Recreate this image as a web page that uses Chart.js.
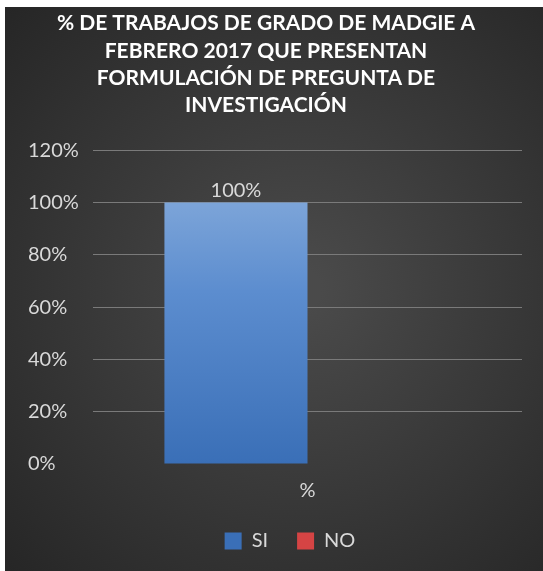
<!DOCTYPE html>
<html>
<head>
<meta charset="utf-8">
<script src="https://cdn.jsdelivr.net/npm/chart.js@4.4.0/dist/chart.umd.min.js"></script>
<style>
  html, body { margin: 0; padding: 0; background: #ffffff; width: 543px; height: 571px; overflow: hidden; }
  #wrap { position: absolute; left: 5px; top: 7px; width: 538px; height: 564px; }
</style>
</head>
<body>
<div id="wrap"><canvas id="c" width="538" height="564"></canvas></div>
<script>
const titleLines = [
  '% DE TRABAJOS DE GRADO DE MADGIE A',
  'FEBRERO 2017 QUE PRESENTAN',
  'FORMULACIÓN DE PREGUNTA DE',
  'INVESTIGACIÓN'
];
const categories = ['%'];
const seriesNames = ['SI', 'NO'];
const siValues = [100];
const noValues = [0];
const yTicks = [0, 20, 40, 60, 80, 100, 120];

const FONT = 'Lato, "Open Sans", sans-serif';

const bgPlugin = {
  id: 'bg',
  beforeDraw(chart) {
    const { ctx, width, height } = chart;
    const g = ctx.createRadialGradient(width * 0.55, height * 0.5, 20, width * 0.55, height * 0.5, Math.max(width, height) * 0.72);
    g.addColorStop(0, '#4a4a4a');
    g.addColorStop(1, '#262626');
    ctx.save();
    ctx.fillStyle = g;
    ctx.fillRect(0, 0, width, height);
    ctx.restore();
  }
};

const shiftPlugin = {
  id: 'shift',
  afterLayout(chart) {
    const t = chart.titleBlock;
    if (t) { t.left -= 9; t.right -= 9; }
    const l = chart.legend;
    if (l) { l.left += 15; l.right += 15; }
  }
};

const labelPlugin = {
  id: 'barLabels',
  afterDatasetsDraw(chart) {
    const { ctx } = chart;
    const meta = chart.getDatasetMeta(0);
    ctx.save();
    ctx.font = '20px ' + FONT;
    ctx.fillStyle = '#d9d9d9';
    ctx.textAlign = 'center';
    ctx.textBaseline = 'middle';
    meta.data.forEach((bar, i) => {
      const v = chart.data.datasets[0].data[i];
      ctx.fillText(v + '%', bar.x, bar.y - 12);
    });
    ctx.restore();
  }
};

function blueGradient(context) {
  const chart = context.chart;
  const area = chart.chartArea;
  if (!area) return '#4a7fc5';
  const g = chart.ctx.createLinearGradient(0, area.top, 0, area.bottom);
  g.addColorStop(0, '#8fb2de');
  g.addColorStop(0.45, '#5c8dcf');
  g.addColorStop(1, '#3a6fb7');
  return g;
}

new Chart(document.getElementById('c'), {
  type: 'bar',
  data: {
    labels: categories,
    datasets: [
      { label: seriesNames[0], data: siValues, backgroundColor: blueGradient, borderWidth: 0 },
      { label: seriesNames[1], data: noValues, backgroundColor: '#d54444', borderWidth: 0 }
    ]
  },
  options: {
    responsive: false,
    animation: false,
    devicePixelRatio: 1,
    layout: { padding: { left: 23, right: 21, top: 0, bottom: 10 } },
    datasets: { bar: { categoryPercentage: 0.667, barPercentage: 1.0 } },
    plugins: {
      title: {
        display: true,
        text: titleLines,
        color: '#ffffff',
        font: { family: FONT, size: 21, weight: 'bold', lineHeight: 1.3 },
        padding: { top: 3, bottom: 31 }
      },
      legend: {
        position: 'bottom',
        labels: {
          color: '#d9d9d9',
          font: { family: FONT, size: 20 },
          boxWidth: 17,
          boxHeight: 17,
          padding: 29
        }
      },
      tooltip: { enabled: false }
    },
    scales: {
      x: {
        grid: { display: false },
        border: { display: false },
        ticks: { color: '#d9d9d9', font: { family: FONT, size: 20 }, padding: 7 },
        afterFit(scale) { scale.height = 38; }
      },
      y: {
        min: 0,
        max: 120,
        afterBuildTicks(scale) { scale.ticks = yTicks.map(v => ({ value: v })); },
        grid: {
          color: ctx => (ctx.tick && ctx.tick.value === 0) ? 'rgba(0,0,0,0)' : '#7a7a7a',
          lineWidth: 1,
          drawTicks: false
        },
        border: { display: false },
        ticks: {
          color: '#d9d9d9',
          font: { family: FONT, size: 20 },
          crossAlign: 'far',
          callback: v => v + '%'
        },
        afterFit(scale) { scale.width = 65; }
      }
    }
  },
  plugins: [bgPlugin, shiftPlugin, labelPlugin]
});
</script>
</body>
</html>
